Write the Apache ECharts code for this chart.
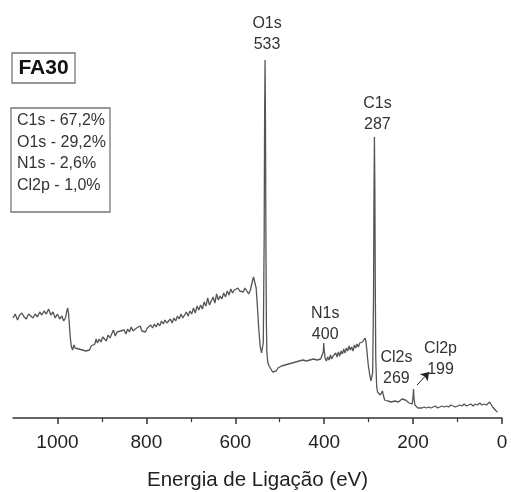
<!DOCTYPE html>
<html>
<head>
<meta charset="utf-8">
<script src="https://cdn.jsdelivr.net/npm/echarts@6/dist/echarts.min.js"></script>
<style>html,body{margin:0;padding:0;background:#fff}#c{width:511px;height:492px}</style>
</head>
<body>
<div id="c"></div>
<script>
// XPS survey spectrum: [binding energy (eV), intensity (a.u.)]
const spectrum = [
[1100,100],[1095,104],[1090,98],[1085,103],[1080,105],[1075,101],[1070,99],[1065,104],[1060,102],[1055,100],
[1050,104],[1045,101],[1040,106],[1035,103],[1030,107],[1025,104],[1020,109],[1015,103],[1010,106],[1005,100],
[1000,104],[995,99],[990,102],[986,97],[982,100],[979,107],[977,110],[975,104],[973,92],[971,80],[969,72],
[966,68],[963,73],[960,70],[956,72],[952,69],[948,71],[944,68],[940,70],[936,67],[932,69],[928,68],[924,72],
[920,70],[916,74],[913,79],[910,75],[906,79],[902,76],[898,81],[894,79],[890,77],[886,83],[882,80],[878,84],
[874,88],[870,82],[866,86],[862,84],[858,87],[854,85],[850,88],[846,84],[842,89],[838,86],[834,91],[830,87],
[826,85],[822,90],[818,88],[814,92],[810,87],[806,89],[802,86],[798,90],[794,88],[790,93],[786,90],[782,94],
[778,91],[774,95],[770,92],[766,97],[762,94],[758,98],[754,95],[750,96],[746,99],[742,95],[738,100],[734,97],
[730,102],[726,99],[722,104],[718,100],[714,103],[710,106],[706,102],[702,107],[698,104],[694,110],[690,105],
[686,112],[682,108],[678,113],[674,109],[670,116],[666,112],[662,120],[658,113],[654,117],[650,121],[646,115],
[642,124],[638,118],[634,122],[630,119],[626,125],[622,121],[618,127],[614,123],[610,129],[606,125],[602,128],
[598,126],[594,130],[590,127],[586,129],[582,126],[578,130],[574,127],[570,124],[566,128],[562,136],[559,141],
[556,140],[553,130],[550,110],[547,88],[544,72],[541,65],[539,63],[537,75],[535,180],[534,300],[533,358],
[532,290],[531,170],[530,95],[529,66],[527,56],[524,52],[520,49],[516,46],[512,48],[508,47],[504,50],[500,49],
[496,52],[492,50],[488,53],[484,51],[480,54],[476,52],[472,55],[468,53],[464,56],[460,54],[456,57],[452,55],
[448,58],[444,56],[440,57],[436,55],[432,58],[428,56],[424,59],[420,57],[416,58],[412,56],[408,59],[404,58],
[402,66],[401,75],[400,68],[398,60],[395,57],[392,61],[389,58],[386,63],[383,59],[380,62],[377,60],[374,65],
[371,61],[368,66],[365,62],[362,67],[359,64],[356,69],[353,65],[350,70],[347,67],[344,72],[341,68],[338,71],
[335,67],[332,73],[329,70],[326,74],[323,71],[320,75],[317,73],[314,76],[311,78],[308,80],[306,76],[304,68],
[302,58],[300,50],[297,42],[295,37],[293,35],[291,45],[289,120],[288,220],[287,281],[286,230],[285,130],
[284,60],[282,32],[280,26],[277,25],[274,23],[271,25],[269,27],[267,23],[264,18],[261,16],[257,17],[253,15],
[249,16],[245,15],[241,17],[237,15],[233,16],[229,18],[225,19],[221,17],[217,18],[213,16],[209,15],[205,13],
[202,14],[200,22],[199,29],[198,20],[196,13],[193,11],[189,10],[185,11],[180,10],[175,11],[170,10],[165,11],
[160,10],[155,11],[150,12],[145,10],[140,11],[135,12],[130,11],[125,12],[120,11],[115,13],[110,12],[105,11],
[100,12],[95,13],[90,12],[85,14],[80,12],[75,13],[70,14],[65,12],[60,14],[55,13],[50,15],[45,13],[40,14],
[35,13],[31,14],[28,16],[26,18],[24,15],[21,11],[17,9],[13,7],[10,6]
];
const peakNames = ['O1s', 'C1s', 'N1s', 'Cl2s', 'Cl2p'];
const peakEnergies = [533, 287, 400, 269, 199];
const peakLabelText = ['533', '287', '400', '269', '199'];
const composition = ['C1s - 67,2%', 'O1s - 29,2%', 'N1s - 2,6%', 'Cl2p - 1,0%'];
const sampleName = 'FA30';
const xTicks = [0, 200, 400, 600, 800, 1000];
const arrowFrom = [191, 33];
const arrowTo = [164, 46];

// label placement styles (offset in px)
const labelStyle = {
  'O1s': {distance: 5, offset: [2, 0]},
  'C1s': {distance: 2, offset: [3, 0]},
  'N1s': {distance: 5, offset: [1, 0]},
  'Cl2s': {distance: 2, offset: [14, 0]},
  'Cl2p': {distance: 9, offset: [27, 0]}
};

function intensityAt(e) {
  let best = spectrum[0];
  for (const p of spectrum) if (Math.abs(p[0] - e) < Math.abs(best[0] - e)) best = p;
  return best[1];
}

const font = 'Arial, "Liberation Sans", sans-serif';
const chart = echarts.init(document.getElementById('c'));
chart.setOption({
  animation: false,
  backgroundColor: '#fff',
  grid: {left: 13, right: 9, top: 18, bottom: 74, containLabel: false, outerBoundsMode: 'none'},
  xAxis: {
    type: 'value', min: 0, max: 1100, interval: 200, inverse: true,
    name: 'Energia de Ligação (eV)', nameLocation: 'middle', nameGap: 52,
    nameTextStyle: {fontSize: 20.5, color: '#222', fontFamily: font},
    axisLine: {show: true, onZero: false, lineStyle: {color: '#333', width: 1.5}},
    axisTick: {show: true, inside: false, length: 6, lineStyle: {color: '#333', width: 1.5},
      customValues: xTicks},
    minorTick: {show: true, splitNumber: 2, length: 4, lineStyle: {color: '#333', width: 1.2}},
    axisLabel: {fontSize: 19, color: '#222', margin: 15, fontFamily: font,
      customValues: xTicks,
      formatter: v => (xTicks.indexOf(v) >= 0 ? String(v) : '')},
    splitLine: {show: false}
  },
  yAxis: {type: 'value', min: 0, max: 400, show: false},
  series: [{
    type: 'line',
    data: spectrum,
    showSymbol: false,
    lineStyle: {color: '#555', width: 1.3},
    markPoint: {
      symbol: 'circle', symbolSize: 1,
      itemStyle: {color: 'rgba(0,0,0,0)'},
      data: peakNames.map((n, i) => ({
        name: n,
        coord: [peakEnergies[i], intensityAt(peakEnergies[i])],
        label: {
          show: true, position: 'top',
          distance: labelStyle[n].distance, offset: labelStyle[n].offset,
          formatter: n + '\n' + peakLabelText[i],
          fontSize: 16, lineHeight: 20.5, color: '#333', fontFamily: font, align: 'center'
        }
      }))
    },
    markLine: {
      silent: true, symbol: ['none', 'arrow'], symbolSize: 8,
      lineStyle: {color: '#222', width: 1, type: 'solid'},
      label: {show: false},
      data: [[{coord: arrowFrom}, {coord: arrowTo}]]
    }
  }],
  graphic: [
    {type: 'rect', shape: {x: 12, y: 53, width: 63, height: 30},
      style: {fill: '#fff', stroke: '#777', lineWidth: 1.3}},
    {type: 'text', x: 43.5, y: 68, style: {text: sampleName, fontSize: 21, fontWeight: 'bold',
      fill: '#111', fontFamily: font, align: 'center', verticalAlign: 'middle'}},
    {type: 'rect', shape: {x: 11, y: 108, width: 99, height: 104},
      style: {fill: '#fff', stroke: '#777', lineWidth: 1.3}},
    ...composition.map((t, i) => ({type: 'text', x: 17, y: 121 + i * 21.5,
      style: {text: t, fontSize: 16, fill: '#333', fontFamily: font, verticalAlign: 'middle'}}))
  ]
});
</script>
</body>
</html>
